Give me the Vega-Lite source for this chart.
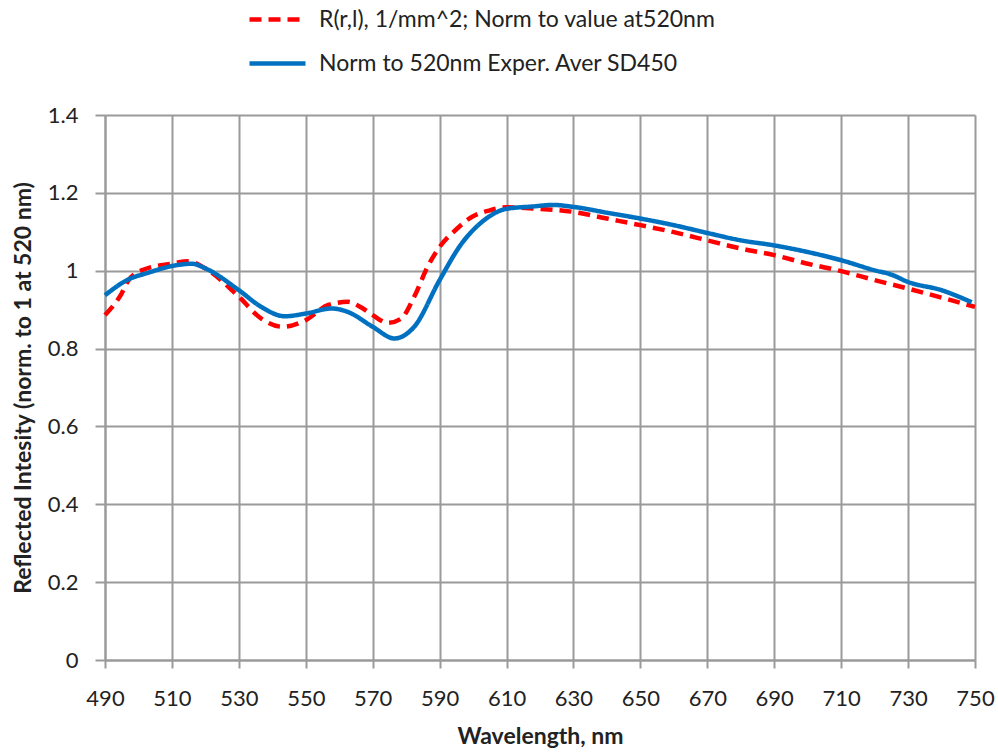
{
  "$schema": "https://vega.github.io/schema/vega-lite/v6.json",
  "width": 870,
  "height": 545,
  "autosize": "none",
  "padding": {"left": 105, "top": 115, "right": 23, "bottom": 93},
  "background": "white",
  "config": {
    "font": "Lato",
    "view": {"stroke": null}
  },
  "datasets": {
    "red": [
      {"wl": 490, "v": 0.886}, {"wl": 495, "v": 0.942}, {"wl": 497, "v": 0.975},
      {"wl": 501.6, "v": 1.003}, {"wl": 510, "v": 1.018}, {"wl": 515, "v": 1.024},
      {"wl": 520, "v": 1.006}, {"wl": 530, "v": 0.933}, {"wl": 536.7, "v": 0.877},
      {"wl": 543, "v": 0.856}, {"wl": 550, "v": 0.873}, {"wl": 556.7, "v": 0.912},
      {"wl": 562.6, "v": 0.920}, {"wl": 566.5, "v": 0.906}, {"wl": 570, "v": 0.886},
      {"wl": 574.5, "v": 0.866}, {"wl": 578.5, "v": 0.877}, {"wl": 582.4, "v": 0.933},
      {"wl": 586.4, "v": 1.010}, {"wl": 590, "v": 1.061}, {"wl": 594.7, "v": 1.104},
      {"wl": 599.6, "v": 1.138}, {"wl": 605, "v": 1.155}, {"wl": 610, "v": 1.163},
      {"wl": 617.8, "v": 1.160}, {"wl": 630, "v": 1.151}, {"wl": 640, "v": 1.134},
      {"wl": 650, "v": 1.117}, {"wl": 660, "v": 1.099}, {"wl": 670, "v": 1.078},
      {"wl": 680, "v": 1.057}, {"wl": 690, "v": 1.040}, {"wl": 700, "v": 1.018},
      {"wl": 710, "v": 0.999}, {"wl": 720, "v": 0.976}, {"wl": 730, "v": 0.954},
      {"wl": 740, "v": 0.931}, {"wl": 750, "v": 0.907}
    ],
    "blue": [
      {"wl": 490, "v": 0.937}, {"wl": 496.6, "v": 0.976}, {"wl": 503, "v": 0.995},
      {"wl": 510, "v": 1.012}, {"wl": 516, "v": 1.018}, {"wl": 520, "v": 1.006},
      {"wl": 530, "v": 0.950}, {"wl": 536.7, "v": 0.907}, {"wl": 543.7, "v": 0.883},
      {"wl": 550, "v": 0.890}, {"wl": 557.7, "v": 0.903}, {"wl": 562.6, "v": 0.894},
      {"wl": 570, "v": 0.856}, {"wl": 576.5, "v": 0.826}, {"wl": 582.4, "v": 0.856},
      {"wl": 590, "v": 0.976}, {"wl": 596.6, "v": 1.070}, {"wl": 602.6, "v": 1.125},
      {"wl": 610, "v": 1.159}, {"wl": 617.8, "v": 1.165}, {"wl": 623.8, "v": 1.169},
      {"wl": 630, "v": 1.164}, {"wl": 640, "v": 1.149}, {"wl": 650, "v": 1.134},
      {"wl": 660, "v": 1.117}, {"wl": 670, "v": 1.097}, {"wl": 680, "v": 1.078},
      {"wl": 690, "v": 1.065}, {"wl": 700, "v": 1.048}, {"wl": 710, "v": 1.027},
      {"wl": 720, "v": 1.001}, {"wl": 725, "v": 0.990}, {"wl": 730, "v": 0.971},
      {"wl": 740, "v": 0.950}, {"wl": 749, "v": 0.919}
    ]
  },
  "encoding": {
    "x": {
      "field": "wl", "type": "quantitative",
      "scale": {"domain": [490, 750], "nice": false, "zero": false},
      "axis": {
        "title": "Wavelength, nm",
        "values": [490, 510, 530, 550, 570, 590, 610, 630, 650, 670, 690, 710, 730, 750],
        "labelFlush": false, "labelOverlap": false,
        "grid": true, "gridColor": "#9a9a9a", "gridWidth": 2,
        "domainColor": "#9a9a9a", "domainWidth": 2,
        "tickColor": "#9a9a9a", "tickWidth": 2, "tickSize": 8,
        "labelFontSize": 22, "labelColor": "#222", "labelPadding": 20,
        "labelFont": "Lato",
        "titleFontSize": 23, "titleFontWeight": "bold", "titleColor": "#222",
        "titleFont": "Lato", "titlePadding": 16
      }
    },
    "y": {
      "field": "v", "type": "quantitative",
      "scale": {"domain": [0, 1.4], "nice": false},
      "axis": {
        "title": "Reflected Intesity (norm. to 1 at 520 nm)",
        "values": [0, 0.2, 0.4, 0.6, 0.8, 1, 1.2, 1.4],
        "format": ".1~f", "labelFlush": false, "labelOverlap": false,
        "grid": true, "gridColor": "#9a9a9a", "gridWidth": 2,
        "domainColor": "#9a9a9a", "domainWidth": 2,
        "tickColor": "#9a9a9a", "tickWidth": 2, "tickSize": 10,
        "labelFontSize": 22, "labelColor": "#222", "labelPadding": 17,
        "labelFont": "Lato",
        "titleFontSize": 23, "titleFontWeight": "bold", "titleColor": "#222",
        "titleFont": "Lato", "titlePadding": 12
      }
    },
    "color": {
      "field": "series", "type": "nominal",
      "scale": {
        "domain": ["R(r,l),  1/mm^2; Norm to value at520nm", "Norm to 520nm Exper. Aver SD450"],
        "range": ["#ff0000", "#0070c0"]
      },
      "legend": {
        "orient": "none", "legendX": 142, "legendY": -126,
        "title": null, "symbolType": "stroke", "symbolSize": 3136,
        "symbolStrokeWidth": 4.5, "labelFontSize": 23, "labelFont": "Lato",
        "labelColor": "#222", "labelOffset": 11, "rowPadding": 1,
        "labelLimit": 700
      }
    },
    "strokeDash": {
      "field": "series", "type": "nominal",
      "scale": {
        "domain": ["R(r,l),  1/mm^2; Norm to value at520nm", "Norm to 520nm Exper. Aver SD450"],
        "range": [[12, 7], [1, 0]]
      },
      "legend": null
    }
  },
  "layer": [
    {
      "data": {"name": "red"},
      "transform": [{"calculate": "'R(r,l),  1/mm^2; Norm to value at520nm'", "as": "series"}],
      "mark": {"type": "line", "interpolate": "monotone", "strokeWidth": 4.5}
    },
    {
      "data": {"name": "blue"},
      "transform": [{"calculate": "'Norm to 520nm Exper. Aver SD450'", "as": "series"}],
      "mark": {"type": "line", "interpolate": "monotone", "strokeWidth": 4.5}
    }
  ]
}
